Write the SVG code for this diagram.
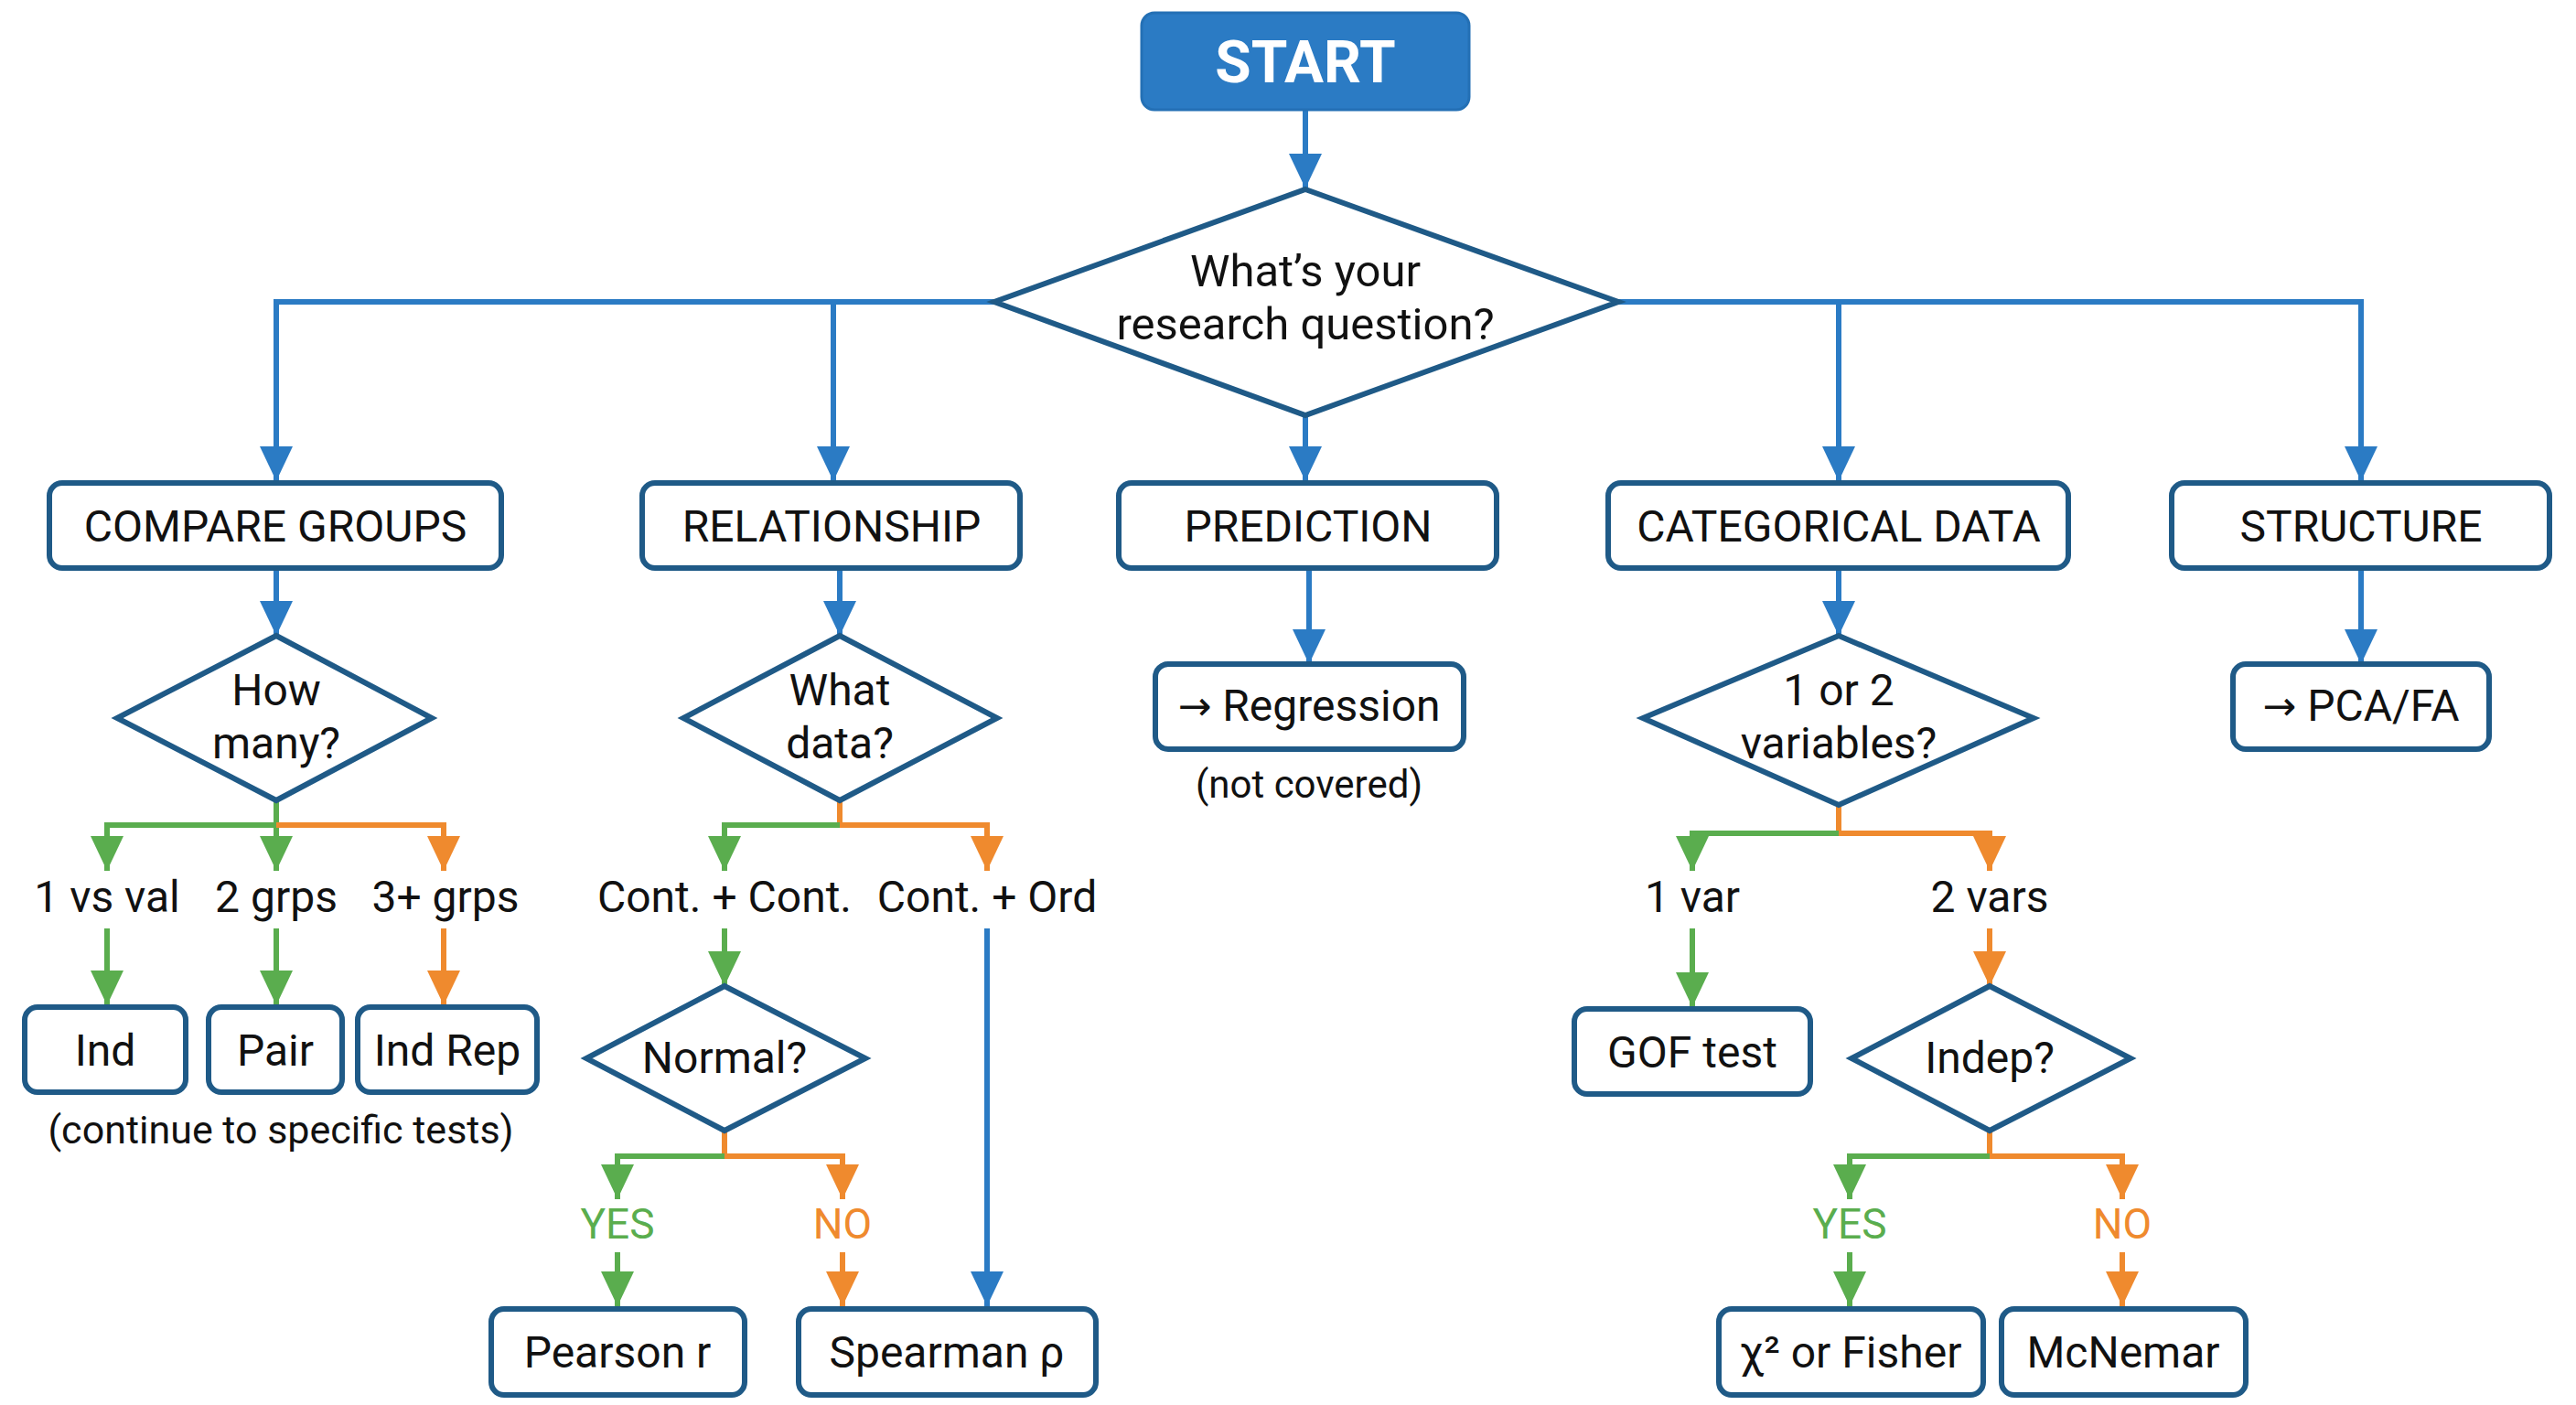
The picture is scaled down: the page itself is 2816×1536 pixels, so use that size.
<svg xmlns="http://www.w3.org/2000/svg" width="2816" height="1536" viewBox="0 0 2816 1536">
<style>
text{font-family:Roboto,"Liberation Sans",sans-serif;fill:#111;text-anchor:middle;dominant-baseline:central}
.box{fill:#fff;stroke:#1f5a87;stroke-width:6}
.dia{fill:#fff;stroke:#1f5a87;stroke-width:6;stroke-linejoin:miter}
.t{font-size:48px}
.arr{font-family:"DejaVu Sans",sans-serif;font-size:44px}
.blue{fill:none;stroke:#2b7bc4;stroke-width:6}
.green{fill:none;stroke:#5aad4e;stroke-width:6}
.orange{fill:none;stroke:#ef8a2e;stroke-width:6}
</style>
<defs>
<marker id="ab" markerUnits="userSpaceOnUse" markerWidth="40" markerHeight="36" refX="38" refY="18" orient="auto"><path d="M0,0 L38,18 L0,36 z" fill="#2b7bc4"/></marker>
<marker id="ag" markerUnits="userSpaceOnUse" markerWidth="40" markerHeight="36" refX="38" refY="18" orient="auto"><path d="M0,0 L38,18 L0,36 z" fill="#5aad4e"/></marker>
<marker id="ao" markerUnits="userSpaceOnUse" markerWidth="40" markerHeight="36" refX="38" refY="18" orient="auto"><path d="M0,0 L38,18 L0,36 z" fill="#ef8a2e"/></marker>
</defs>
<rect width="2816" height="1536" fill="#fff"/>
<g id="connectors">
<path class="blue" d="M1427,120 V206" marker-end="url(#ab)"/>
<path class="blue" d="M1087,330 H302 V526" marker-end="url(#ab)"/>
<path class="blue" d="M911,330 V526" marker-end="url(#ab)"/>
<path class="blue" d="M1769,330 H2581 V526" marker-end="url(#ab)"/>
<path class="blue" d="M2010,330 V526" marker-end="url(#ab)"/>
<path class="blue" d="M1427,454 V526" marker-end="url(#ab)"/>
<path class="blue" d="M302,621 V695" marker-end="url(#ab)"/>
<path class="blue" d="M918,621 V695" marker-end="url(#ab)"/>
<path class="blue" d="M1431,621 V726" marker-end="url(#ab)"/>
<path class="blue" d="M2010,621 V695" marker-end="url(#ab)"/>
<path class="blue" d="M2581,621 V726" marker-end="url(#ab)"/>
<path class="blue" d="M1079,1015 V1428" marker-end="url(#ab)"/>
<path class="green" d="M302,875 V902"/>
<path class="green" d="M302,902 H117 V952" marker-end="url(#ag)"/>
<path class="green" d="M302,902 V952" marker-end="url(#ag)"/>
<path class="orange" d="M302,902 H485 V952" marker-end="url(#ao)"/>
<path class="green" d="M117,1015 V1099" marker-end="url(#ag)"/>
<path class="green" d="M302,1015 V1099" marker-end="url(#ag)"/>
<path class="orange" d="M485,1015 V1099" marker-end="url(#ao)"/>
<path class="orange" d="M918,875 V902"/>
<path class="green" d="M918,902 H792 V952" marker-end="url(#ag)"/>
<path class="orange" d="M918,902 H1079 V952" marker-end="url(#ao)"/>
<path class="green" d="M792,1015 V1078" marker-end="url(#ag)"/>
<path class="orange" d="M792,1236 V1264"/>
<path class="green" d="M792,1264 H675 V1311" marker-end="url(#ag)"/>
<path class="orange" d="M792,1264 H921 V1311" marker-end="url(#ao)"/>
<path class="green" d="M675,1369 V1428" marker-end="url(#ag)"/>
<path class="orange" d="M921,1369 V1428" marker-end="url(#ao)"/>
<path class="orange" d="M2010,880 V911"/>
<path class="green" d="M2010,911 H1850 V952" marker-end="url(#ag)"/>
<path class="orange" d="M2010,911 H2175 V952" marker-end="url(#ao)"/>
<path class="green" d="M1850,1015 V1101" marker-end="url(#ag)"/>
<path class="orange" d="M2175,1015 V1078" marker-end="url(#ao)"/>
<path class="orange" d="M2175,1236 V1264"/>
<path class="green" d="M2175,1264 H2022 V1311" marker-end="url(#ag)"/>
<path class="orange" d="M2175,1264 H2320 V1311" marker-end="url(#ao)"/>
<path class="green" d="M2022,1369 V1428" marker-end="url(#ag)"/>
<path class="orange" d="M2320,1369 V1428" marker-end="url(#ao)"/>
</g>
<g id="start"><rect x="1248" y="14" width="358" height="106" rx="14" fill="#2b7bc4" stroke="#2470b5" stroke-width="3"/><text x="1427" y="68" style="font-size:64px;font-weight:bold;fill:#fff">START</text></g>
<g id="question"><polygon class="dia" points="1427,207 1769,330 1427,454 1087,330"/><text class="t" x="1427" y="296" style="font-size:49px">What’s your</text><text class="t" x="1427" y="354" style="font-size:49px">research question?</text></g>
<g id="compare"><rect class="box" x="54" y="528" width="494" height="93" rx="14"/><text class="t" x="301" y="575">COMPARE GROUPS</text></g>
<g id="relationship"><rect class="box" x="702" y="528" width="413" height="93" rx="14"/><text class="t" x="909" y="575">RELATIONSHIP</text></g>
<g id="prediction"><rect class="box" x="1223" y="528" width="413" height="93" rx="14"/><text class="t" x="1430" y="575">PREDICTION</text></g>
<g id="categorical"><rect class="box" x="1758" y="528" width="503" height="93" rx="14"/><text class="t" x="2010" y="575">CATEGORICAL DATA</text></g>
<g id="structure"><rect class="box" x="2374" y="528" width="413" height="93" rx="14"/><text class="t" x="2581" y="575">STRUCTURE</text></g>
<g id="howmany"><polygon class="dia" points="302,695 472,785 302,875 128,785"/><text class="t" x="302" y="754">How</text><text class="t" x="302" y="812">many?</text></g>
<g id="lbl-1vsval"><text class="t" x="117" y="980">1 vs val</text></g>
<g id="lbl-2grps"><text class="t" x="302" y="980">2 grps</text></g>
<g id="lbl-3grps"><text class="t" x="487" y="980">3+ grps</text></g>
<g id="ind"><rect class="box" x="27" y="1101" width="176" height="93" rx="14"/><text class="t" x="115" y="1148">Ind</text></g>
<g id="pair"><rect class="box" x="228" y="1101" width="146" height="93" rx="14"/><text class="t" x="301" y="1148">Pair</text></g>
<g id="indrep"><rect class="box" x="391" y="1101" width="196" height="93" rx="14"/><text class="t" x="489" y="1148">Ind Rep</text></g>
<g id="note1"><text class="t" x="307" y="1235" style="font-size:43px">(continue to specific tests)</text></g>
<g id="whatdata"><polygon class="dia" points="918,695 1090,785 918,875 747,785"/><text class="t" x="918" y="754">What</text><text class="t" x="918" y="812">data?</text></g>
<g id="lbl-contcont"><text class="t" x="792" y="980">Cont. + Cont.</text></g>
<g id="lbl-contord"><text class="t" x="1079" y="980">Cont. + Ord</text></g>
<g id="normal"><polygon class="dia" points="792,1078 946,1157 792,1236 641,1157"/><text class="t" x="792" y="1156">Normal?</text></g>
<g id="yes1"><text class="t" x="675" y="1338" style="fill:#5aad4e;font-size:46px">YES</text></g>
<g id="no1"><text class="t" x="921" y="1338" style="fill:#ef8a2e;font-size:46px">NO</text></g>
<g id="pearson"><rect class="box" x="537" y="1431" width="277" height="94" rx="14"/><text class="t" x="675" y="1478">Pearson r</text></g>
<g id="spearman"><rect class="box" x="873" y="1431" width="325" height="94" rx="14"/><text class="t" x="1035" y="1478">Spearman ρ</text></g>
<g id="regression"><rect class="box" x="1263" y="726" width="337" height="93" rx="14"/><text class="t" x="1431" y="771"><tspan class="arr">→</tspan> Regression</text></g>
<g id="note2"><text class="t" x="1431" y="857" style="font-size:42px">(not covered)</text></g>
<g id="vars"><polygon class="dia" points="2010,695 2223,785 2010,880 1796,785"/><text class="t" x="2010" y="754">1 or 2</text><text class="t" x="2010" y="812">variables?</text></g>
<g id="lbl-1var"><text class="t" x="1850" y="980">1 var</text></g>
<g id="lbl-2vars"><text class="t" x="2175" y="980">2 vars</text></g>
<g id="gof"><rect class="box" x="1721" y="1103" width="258" height="93" rx="14"/><text class="t" x="1850" y="1150">GOF test</text></g>
<g id="indep"><polygon class="dia" points="2175,1078 2329,1157 2175,1236 2024,1157"/><text class="t" x="2175" y="1156">Indep?</text></g>
<g id="yes2"><text class="t" x="2022" y="1338" style="fill:#5aad4e;font-size:46px">YES</text></g>
<g id="no2"><text class="t" x="2320" y="1338" style="fill:#ef8a2e;font-size:46px">NO</text></g>
<g id="chi"><rect class="box" x="1879" y="1431" width="289" height="94" rx="14"/><text class="t" x="2023" y="1478">χ² or Fisher</text></g>
<g id="mcnemar"><rect class="box" x="2188" y="1431" width="267" height="94" rx="14"/><text class="t" x="2321" y="1478">McNemar</text></g>
<g id="pca"><rect class="box" x="2441" y="726" width="280" height="93" rx="14"/><text class="t" x="2581" y="771"><tspan class="arr">→</tspan> PCA/FA</text></g>
</svg>
